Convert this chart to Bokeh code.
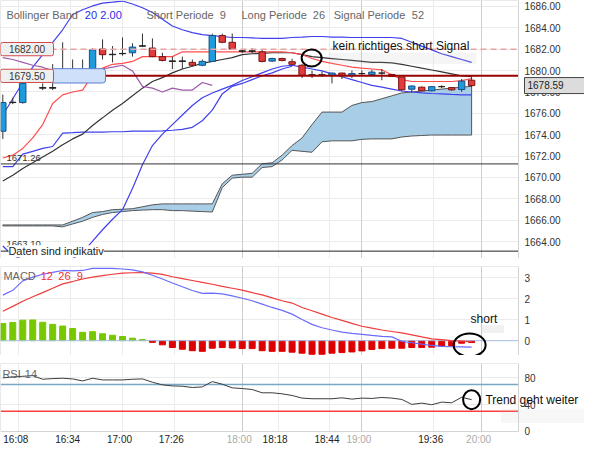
import numpy as np
from bokeh.plotting import figure
from bokeh.layouts import column
from bokeh.models import (Range1d, FixedTicker, Label, BoxAnnotation, Grid, ColumnDataSource)
from bokeh.embed import file_html
from bokeh.resources import INLINE

FONT = "Liberation Sans"
NAN = float("nan")

# ---------------- data ----------------
times = ["16:00", "16:05", "16:10", "16:15", "16:20", "16:25", "16:30", "16:35", "16:40", "16:45", "16:50", "16:55",
         "17:00", "17:05", "17:10", "17:15", "17:20", "17:25", "17:30", "17:35", "17:40", "17:45", "17:50", "17:55",
         "18:00", "18:05", "18:10", "18:15", "18:20", "18:25", "18:30", "18:35", "18:40", "18:45", "18:50", "18:55",
         "19:00", "19:05", "19:10", "19:15", "19:20", "19:25", "19:30", "19:35", "19:40", "19:45", "19:50", "19:55"]

opens = [1674.32, 1677.00, 1677.00, 1678.90, 1678.40, 1678.35, 1678.90, 1679.70, 1679.90, 1679.60, 1682.01, 1681.48,
         1681.57, 1681.66, 1682.28, 1682.10, 1681.30, 1680.90, 1680.85, 1680.76, 1680.49, 1680.85, 1683.27, 1682.64,
         1681.84, 1681.79, 1681.75, 1680.88, 1681.12, 1680.82, 1680.49, 1679.55, 1679.60, 1679.55, 1679.76, 1679.55,
         1679.71, 1679.62, 1679.76, 1679.63, 1679.40, 1678.25, 1678.44, 1678.10, 1678.49, 1678.40, 1678.22, 1679.09]
highs = [1677.75, 1677.45, 1679.50, 1680.00, 1678.80, 1680.60, 1682.64, 1681.03, 1681.03, 1682.08, 1682.91, 1682.28,
         1683.09, 1682.55, 1683.45, 1683.00, 1681.66, 1681.30, 1681.30, 1681.03, 1681.03, 1683.45, 1683.45, 1683.45,
         1681.99, 1682.10, 1681.93, 1681.20, 1681.20, 1681.10, 1680.60, 1679.98, 1679.90, 1679.80, 1679.80, 1680.00,
         1680.00, 1680.07, 1680.14, 1679.70, 1679.40, 1678.60, 1678.50, 1678.55, 1678.62, 1678.45, 1679.20, 1679.40]
lows = [1673.60, 1676.85, 1676.90, 1678.85, 1678.17, 1678.17, 1678.85, 1679.30, 1679.20, 1679.40, 1681.03, 1680.76,
        1681.39, 1681.30, 1682.19, 1681.25, 1680.85, 1680.14, 1680.14, 1680.40, 1680.40, 1680.80, 1682.55, 1681.93,
        1681.63, 1681.63, 1680.76, 1680.80, 1680.85, 1680.49, 1679.30, 1679.30, 1679.40, 1678.79, 1679.20, 1679.30,
        1679.55, 1679.55, 1679.09, 1679.40, 1678.05, 1677.95, 1678.05, 1678.05, 1678.35, 1678.10, 1678.00, 1678.45]
closes = [1677.00, 1677.03, 1678.80, 1679.50, 1678.35, 1678.40, 1679.70, 1679.90, 1679.60, 1681.93, 1681.48, 1681.52,
          1681.60, 1682.19, 1682.31, 1681.30, 1680.94, 1680.85, 1680.90, 1680.49, 1680.85, 1683.27, 1682.64, 1682.01,
          1681.79, 1681.84, 1680.85, 1681.12, 1680.94, 1680.58, 1679.55, 1679.60, 1679.55, 1679.76, 1679.55, 1679.71,
          1679.71, 1679.85, 1679.76, 1679.45, 1678.20, 1678.55, 1678.10, 1678.49, 1678.49, 1678.19, 1679.00, 1678.59]

boll_upper = [1675.84, 1677.36, 1678.88, 1680.31, 1681.48, 1682.64, 1683.81, 1685.24, 1685.69, 1686.04, 1686.31, 1686.40,
              1686.50, 1686.22, 1685.87, 1685.42, 1684.79, 1684.17, 1683.81, 1683.54, 1683.36, 1683.27, 1683.18, 1683.09,
              1683.09, 1683.05, 1683.00, 1683.00, 1683.00, 1683.09, 1683.13, 1683.18, 1683.18, 1683.13, 1683.13, 1683.09,
              1683.09, 1683.09, 1683.09, 1683.09, 1683.00, 1682.64, 1682.28, 1681.93, 1681.57, 1681.30, 1681.03, 1680.76]
boll_mid = [1671.01, 1671.01, 1672.17, 1672.44, 1672.71, 1672.89, 1674.14, 1674.18, 1674.23, 1674.23, 1674.23, 1674.27,
            1674.27, 1674.32, 1674.32, 1674.32, 1674.36, 1674.41, 1674.50, 1674.68, 1675.30, 1676.29, 1677.81, 1678.52,
            1678.79, 1679.15, 1679.51, 1679.78, 1680.14, 1680.40, NAN, NAN, NAN, NAN, NAN, NAN,
            NAN, NAN, NAN, NAN, NAN, NAN, NAN, NAN, NAN, NAN, NAN, NAN]
boll_lower = [1663.58, 1662.69, 1662.33, 1662.15, 1662.15, 1662.15, 1662.24, 1662.41, 1662.95, 1664.03, 1665.10, 1666.08,
              1666.98, 1668.95, 1671.19, 1672.98, 1674.05, 1674.94, 1675.84, 1676.73, 1677.45, 1677.90, 1678.26, 1678.61,
              1679.06, 1679.42, 1679.78, 1680.14, 1680.40, 1680.49, 1680.31, 1680.14, 1679.96, 1679.69, 1679.42, 1679.15,
              1678.88, 1678.61, 1678.44, 1678.26, 1678.08, 1677.99, 1677.90, 1677.85, 1677.81, 1677.76, 1677.72, 1677.72]

short_line = [1671.81, 1672.08, 1672.71, 1673.69, 1674.94, 1676.91, 1677.72, 1677.99, 1678.17, 1679.60, 1680.22, 1680.58,
              1680.67, 1680.85, 1681.30, 1681.30, 1681.30, 1681.30, 1681.75, 1681.75, 1681.75, 1681.75, 1681.75, 1681.75,
              1681.75, 1681.75, 1681.75, 1681.75, 1681.75, 1681.66, 1681.48, 1681.12, 1680.85, 1680.67, 1680.49, 1680.31,
              1680.22, 1680.14, 1680.05, 1679.60, 1679.15, 1678.97, 1678.97, 1678.97, 1678.97, 1678.97, 1679.06, 1679.24]
long_line = [1669.66, 1670.20, 1670.83, 1671.36, 1671.90, 1672.44, 1673.06, 1673.60, 1674.05, 1674.86, 1675.57, 1676.29,
             1676.91, 1677.63, 1678.35, 1678.97, 1679.33, 1679.78, 1680.14, 1680.40, 1680.67, 1680.85, 1681.03, 1681.21,
             1681.48, 1681.57, 1681.61, 1681.66, 1681.66, 1681.66, 1681.48, 1681.30, 1681.21, 1681.12, 1681.03, 1680.94,
             1680.85, 1680.76, 1680.76, 1680.72, 1680.58, 1680.40, 1680.22, 1680.05, 1679.87, 1679.69, 1679.51, 1679.42]
lag_line = [1681.21, 1681.03, 1680.76, 1680.49, 1680.31, 1679.96, 1679.69, 1679.60, 1679.60, 1679.78, 1680.14, 1680.31,
            1680.49, 1679.96, 1678.52, 1678.35, 1677.99, 1678.35, 1678.17, 1678.17, 1678.88, 1678.61, NAN, NAN,
            NAN, NAN, NAN, NAN, NAN, NAN, NAN, NAN, NAN, NAN, NAN, NAN,
            NAN, NAN, NAN, NAN, NAN, NAN, NAN, NAN, NAN, NAN, NAN, NAN]
cloud_top = [1665.55, 1665.55, 1665.55, 1665.55, 1665.55, 1665.55, 1665.55, 1665.90, 1666.26, 1666.71, 1666.80, 1666.98,
             1667.02, 1667.07, 1667.25, 1667.43, 1667.52, 1667.52, 1667.52, 1667.52, 1667.52, 1667.52, 1669.40, 1670.20,
             1670.29, 1670.38, 1671.28, 1671.36, 1672.08, 1672.98, 1673.69, 1674.94, 1676.11, 1676.11, 1676.11, 1676.73,
             1677.00, 1677.09, 1677.36, 1677.63, 1677.90, 1677.99, 1678.08, 1678.17, 1678.26, 1678.35, 1678.44, 1678.52]
cloud_bottom = [1665.46, 1665.46, 1665.46, 1665.46, 1665.46, 1665.46, 1665.37, 1665.64, 1665.90, 1666.26, 1666.53, 1666.71,
                1666.80, 1666.89, 1666.94, 1666.98, 1666.98, 1666.89, 1666.89, 1666.84, 1666.80, 1666.76, 1669.04, 1669.93,
                1670.02, 1670.02, 1670.92, 1671.01, 1671.63, 1672.53, 1672.44, 1672.35, 1673.33, 1673.42, 1673.42, 1673.42,
                1673.56, 1673.60, 1673.60, 1673.60, 1673.78, 1673.87, 1673.92, 1673.96, 1673.96, 1673.96, 1673.96, 1673.96]

macd_line = [2.18, 2.41, 2.86, 3.04, 3.18, 3.27, 3.36, 3.34, 3.36, 3.46, 3.46, 3.46,
             3.43, 3.39, 3.29, 3.13, 2.95, 2.76, 2.58, 2.40, 2.26, 2.28, 2.24, 2.14,
             2.03, 1.91, 1.75, 1.59, 1.45, 1.27, 1.01, 0.78, 0.62, 0.51, 0.41, 0.35,
             0.30, 0.25, 0.21, 0.18, -0.03, -0.10, -0.17, -0.23, -0.27, -0.29, -0.30, -0.31]
signal_line = [1.41, 1.64, 1.89, 2.10, 2.30, 2.51, 2.72, 2.83, 2.95, 3.04, 3.11, 3.18,
               3.23, 3.25, 3.26, 3.23, 3.17, 3.06, 2.97, 2.88, 2.79, 2.70, 2.60, 2.51,
               2.42, 2.30, 2.19, 2.05, 1.91, 1.80, 1.59, 1.43, 1.27, 1.11, 0.97, 0.83,
               0.69, 0.60, 0.51, 0.44, 0.37, 0.28, 0.18, 0.09, 0.05, 0.00, -0.02, -0.05]
macd_hist = [0.82, 0.87, 0.98, 0.99, 0.88, 0.78, 0.70, 0.58, 0.40, 0.43, 0.33, 0.26,
             0.20, 0.12, 0.05, -0.08, -0.20, -0.33, -0.41, -0.48, -0.51, -0.36, -0.33, -0.35,
             -0.38, -0.38, -0.48, -0.51, -0.51, -0.55, -0.60, -0.65, -0.65, -0.60, -0.57, -0.54,
             -0.49, -0.42, -0.38, -0.36, -0.36, -0.33, -0.33, -0.31, -0.27, -0.25, -0.12, -0.09]
rsi_line = [79.9, 81.4, 82.3, 83.3, 77.9, 78.9, 79.4, 78.4, 75.4, 79.4, 76.9, 76.9,
            76.9, 77.9, 78.4, 73.5, 69.5, 68.0, 67.5, 65.6, 66.5, 74.4, 70.5, 65.1,
            64.1, 62.6, 57.7, 57.7, 56.2, 53.7, 49.8, 48.8, 48.8, 48.8, 50.2, 48.3,
            49.8, 49.3, 50.7, 49.8, 47.8, 40.4, 42.3, 39.9, 43.8, 42.8, 51.0, 47.5]

price_ticks = [1664, 1666, 1668, 1670, 1672, 1674, 1676, 1678, 1680, 1682, 1684, 1686]
macd_ticks = [0, 1, 2, 3]
rsi_ticks = [0, 40, 80]
rsi_bands = [70, 30]
time_labels = ["16:08", "16:34", "17:00", "17:26", "18:18", "18:44", "19:36"]
hour_labels = ["18:00", "19:00", "20:00"]

levels = {"stop": 1682.00, "entry": 1679.50, "support1": 1671.26, "support2": 1663.10, "last": 1678.59}


def minutes(s):
    h, m = s.split(":")
    return int(h) * 60 + int(m) - 16 * 60


t = np.array([minutes(s) for s in times], dtype=float)
time_ticks = [minutes(s) for s in time_labels]
hour_ticks = [minutes(s) for s in hour_labels]

# ---------------- layout helpers ----------------
W = 584
X0, XEND = -1.16, 258.5          # chart area (minutes after 16:00)
PX_PER_MIN = 518 / (XEND - X0)
XFULL = X0 + W / PX_PER_MIN       # frame extends over the price-label column
XLAB = X0 + 524 / PX_PER_MIN      # where the right-hand value labels start
xr = Range1d(X0, XFULL)
GRID = "#ebebeb"


def base_fig(height, yr, top=0):
    p = figure(width=W, height=height, x_range=xr, y_range=yr, output_backend="svg",
               toolbar_location=None, x_axis_location=None, y_axis_location=None,
               min_border_left=0, min_border_right=0, min_border_top=top, min_border_bottom=0)
    p.outline_line_color = None
    p.background_fill_color = "white"
    p.border_fill_color = "white"
    p.xgrid.ticker = FixedTicker(ticks=time_ticks)
    p.xgrid.grid_line_color = GRID
    p.ygrid.grid_line_color = GRID
    p.ygrid.cross_bounds = (X0, XEND)
    p.add_layout(Grid(dimension=0, ticker=FixedTicker(ticks=hour_ticks), grid_line_color="#cdcdcd"))
    return p


def txt(p, x, y, text, color="#666666", size="11px", **kw):
    lab = Label(x=x, y=y, text=text, text_font=FONT, text_font_size=size, text_color=color,
                text_baseline="middle", **kw)
    p.add_layout(lab)
    return lab


def frame_box(p, y0, y1):
    p.add_layout(BoxAnnotation(left=X0, right=XEND, bottom=y0, top=y1, fill_alpha=0,
                               line_color="#d3d3d3", line_alpha=1, line_width=1))


def value_labels(p, ticks, fmt):
    for v in ticks:
        txt(p, XLAB, v, fmt.format(v), color="#333333", size="10px")


def hline(p, y, **kw):
    p.segment(x0=[X0], y0=[y], x1=[XEND], y1=[y], **kw)


# ---------------- main price panel ----------------
YMAIN = (1662.41, 1686.55)
main = base_fig(258, Range1d(*YMAIN))
main.ygrid.ticker = FixedTicker(ticks=price_ticks)

main.patch(np.concatenate([t, t[::-1]]),
           np.concatenate([np.array(cloud_top), np.array(cloud_bottom)[::-1]]),
           fill_color="#a8cde6", line_color="#555555", line_width=1)

main.line(t, boll_lower, line_color="#4040ee", line_width=1.2)
main.line(t, boll_mid, line_color="#4040ee", line_width=1.2)
main.line(t, boll_upper, line_color="#4040ee", line_width=1.2)
main.line(t, long_line, line_color="#333333", line_width=1.2)
main.line(t, short_line, line_color="#ff4d4d", line_width=1.2)
main.line(t, lag_line, line_color="#a05aab", line_width=1.2)

o = np.array(opens)
c = np.array(closes)
diff = c - o
fills = ["#1e9bdc" if d > 0.055 else ("#e03c3c" if d < -0.055 else "#222222") for d in diff]
edges = ["#1b4f86" if d > 0.055 else ("#7a1414" if d < -0.055 else "#222222") for d in diff]
cs = ColumnDataSource(dict(t=t, high=highs, low=lows, top=np.maximum(o, c), bottom=np.minimum(o, c),
                           fill=fills, edge=edges))
main.segment("t", "high", "t", "low", source=cs, line_color="#333333", line_width=1)
main.vbar(x="t", width=3.2, top="top", bottom="bottom", source=cs, fill_color="fill", line_color="edge",
          line_width=1)

hline(main, levels["stop"], line_color="#e9a3a3", line_dash="6 4", line_width=1.5)
hline(main, levels["entry"], line_color="#990000", line_width=2)
hline(main, levels["support1"], line_color="#333333", line_width=1)
hline(main, levels["support2"], line_color="#222222", line_width=1)

frame_box(main, *YMAIN)
value_labels(main, price_ticks, "{:.2f}")

HALF = 0.62
main.add_layout(BoxAnnotation(left=50, right=105, left_units="screen", right_units="screen",
                              bottom=levels["entry"] - HALF - 0.05, top=levels["entry"] + HALF + 0.05,
                              fill_color="#cfe0fa", fill_alpha=1, line_color="#5a7fd0", line_alpha=1,
                              line_width=1, border_radius=3))
for key in ("stop", "entry"):
    main.add_layout(BoxAnnotation(left=0, right=53, left_units="screen", right_units="screen",
                                  bottom=levels[key] - HALF, top=levels[key] + HALF,
                                  fill_color="#efefef", fill_alpha=1, line_color="#d24a4a", line_alpha=1,
                                  line_width=1, border_radius=2))
    txt(main, 26.5, levels[key], f"{levels[key]:.2f}", color="#333333", size="10px",
        x_units="canvas", text_align="center")

txt(main, 1.8, 1671.78, f"{levels['support1']:.2f}", color="#333333", size="9.5px")
txt(main, 1.8, 1663.73, f"{levels['support2']:.2f}", color="#333333", size="9.5px")
txt(main, 2.8, levels["support2"], "Daten sind indikativ", color="#222222", size="11px",
    background_fill_color="white", background_fill_alpha=1)

txt(main, 524, levels["last"], f"{levels['last']:.2f}", color="#222222", size="10px", x_units="canvas",
    background_fill_color="#dcdcdc", background_fill_alpha=1, border_line_color="#444444",
    padding=(3, 22, 3, 5))

# titles
TY = 1685.15
txt(main, 1.8, TY, "Bollinger Band")
txt(main, 41.1, TY, "20", color="#2a2ae6")
txt(main, 48.9, TY, "2.00", color="#2a2ae6")
txt(main, 72.0, TY, "Short Periode")
txt(main, 108.8, TY, "9")
txt(main, 119.6, TY, "Long Periode")
txt(main, 155.4, TY, "26")
txt(main, 165.9, TY, "Signal Periode")
txt(main, 205.0, TY, "52")

# annotation
main.add_layout(BoxAnnotation(left=163.8, right=237.4, bottom=1680.6, top=1681.65,
                              fill_color="#bbbbbb", fill_alpha=0.15, line_color=None))
txt(main, 165.3, 1682.28, "kein richtiges short Signal", color="#111111", size="12px")
main.ellipse(x=[154.8], y=[1681.18], width=20, height=17, width_units="screen", height_units="screen",
             fill_color=None, line_color="black", line_width=2)

# ---------------- MACD panel ----------------
YMACD = (-0.71, 3.55)
macd = base_fig(97, Range1d(*YMACD), top=8)
macd.ygrid.ticker = FixedTicker(ticks=macd_ticks)
hist = np.array(macd_hist)
hs = ColumnDataSource(dict(t=t, h=hist, col=["#77c800" if v >= 0 else "#dd0000" for v in hist]))
macd.vbar(x="t", width=3.0, top="h", bottom=0, source=hs, fill_color="col", line_color="col")
hline(macd, 0, line_color="#a9bfe6", line_width=1)
macd.line(t, signal_line, line_color="#f03c3c", line_width=1.2)
macd.line(t, macd_line, line_color="#6b6bff", line_width=1.2)
frame_box(macd, *YMACD)
value_labels(macd, macd_ticks, "{:d}")
txt(macd, 0.3, 3.09, "MACD")
txt(macd, 19.0, 3.09, "12", color="#ee3333")
txt(macd, 27.8, 3.09, "26", color="#ee3333")
txt(macd, 37.1, 3.09, "9", color="#ee3333")
macd.add_layout(BoxAnnotation(left=240, right=251.2, bottom=0.37, top=0.74,
                              fill_color="#bbbbbb", fill_alpha=0.2, line_color=None))
txt(macd, 234.5, 1.03, "short", color="#111111", size="12px")
macd.ellipse(x=[234.0], y=[-0.21], width=32, height=23, width_units="screen", height_units="screen",
             fill_color=None, line_color="black", line_width=2)

# ---------------- RSI panel ----------------
RSI_TOP = 101.4
RSI_BOTTOM = -22.4          # extra room below 0 for the time labels
rsi = base_fig(91, Range1d(RSI_BOTTOM, RSI_TOP), top=8)
rsi.ygrid.ticker = FixedTicker(ticks=[40, 80])
rsi.xgrid.cross_bounds = (0, RSI_TOP)
hline(rsi, rsi_bands[0], line_color="#78a8c2", line_width=1.5)
hline(rsi, rsi_bands[1], line_color="#ff4040", line_width=1.5)
rsi.line(t, rsi_line, line_color="#3c3c3c", line_width=1)
frame_box(rsi, 0, RSI_TOP)
value_labels(rsi, rsi_ticks, "{:d}")
txt(rsi, -0.2, 85.8, "RSI")
txt(rsi, 11.0, 85.8, "14")
rsi.add_layout(BoxAnnotation(left=249.7, right=XFULL, bottom=12.6, top=34.3,
                             fill_color="#bbbbbb", fill_alpha=0.12, line_color=None))
txt(rsi, 241.9, 47.4, "Trend geht weiter", color="#111111", size="12px")
rsi.ellipse(x=[235.0], y=[47.4], width=17, height=19, width_units="screen", height_units="screen",
            fill_color=None, line_color="black", line_width=2)

for tk, lb in zip(time_ticks, time_labels):
    txt(rsi, tk, -12.5, lb, color="#222222", size="10px", text_align="center", x_offset=-3)
for tk, lb in zip(hour_ticks, hour_labels):
    txt(rsi, tk, -12.5, lb, color="#aaaaaa", size="10px", text_align="center", x_offset=-3)

layout = column(main, macd, rsi)
open("out.html", "w").write(file_html(layout, INLINE))
